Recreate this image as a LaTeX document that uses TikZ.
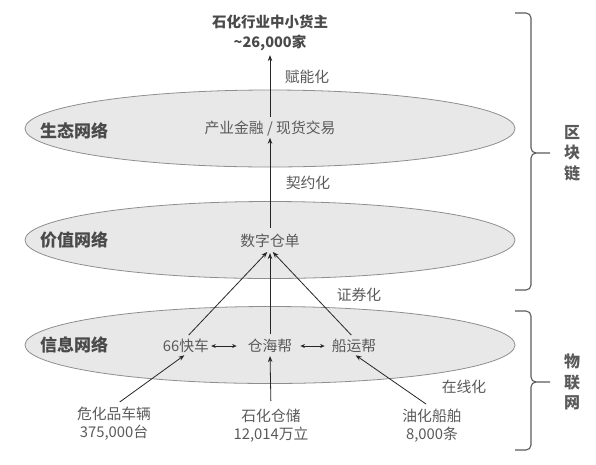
\documentclass[tikz,border=0pt]{standalone}
\usepackage{fontspec}
\setmainfont{Noto Sans CJK SC}
\usetikzlibrary{arrows.meta, shapes.geometric}

\definecolor{txtgray}{HTML}{5A5A5A}
\definecolor{netgray}{HTML}{4A4A4A}
\definecolor{layerfill}{HTML}{E8E8E8}
\definecolor{layerline}{HTML}{8E8E8E}

\begin{document}
\begin{tikzpicture}[
    x=1pt, y=-1pt,
    >={Stealth[length=6pt, width=4.5pt]},
    layer/.style={ellipse, draw=layerline, fill=layerfill, line width=0.8pt,
                  minimum width=490pt, minimum height=77pt, inner sep=0pt},
    netlbl/.style={font=\fontsize{17}{20}\selectfont\bfseries, text=netgray},
    lbl/.style={font=\fontsize{14.8}{18}\selectfont, text=txtgray,
                inner sep=1pt, align=center},
    toplbl/.style={font=\fontsize{14.5}{20}\selectfont\bfseries, text=netgray,
                   inner sep=1pt, align=center},
    sidelbl/.style={font=\fontsize{16}{20.5}\selectfont\bfseries, text=txtgray,
                    align=center},
    arr/.style={->, line width=0.8pt, draw=black!85},
    dbl/.style={<->, >={Stealth[length=4.5pt, width=4pt]}, line width=0.8pt, draw=black!85},
    brk/.style={line width=1.1pt, draw=txtgray},
]
\useasboundingbox (0,0) rectangle (596,464);

% === Layers ===
\node[layer] (eco) at (270, 128.5) {};
\node[layer] (value) at (270, 240) {};
\node[layer] (info) at (270, 345) {};

\node[netlbl] (ecolbl) at (74, 131) {生态网络};
\node[netlbl] (valuelbl) at (74, 240) {价值网络};
\node[netlbl] (infolbl) at (74, 345) {信息网络};

% === Top ===
\node[toplbl] (owners) at (270, 33) {石化行业中小货主\\\textasciitilde 26,000家};

% === Contents of the layers ===
\node[lbl] (finance) at (270, 129) {产业金融 / 现货交易};
\node[lbl] (receipt) at (270, 241) {数字仓单};
\node[lbl] (kuaiche) at (186, 346) {66快车};
\node[lbl] (canghai) at (270, 346) {仓海帮};
\node[lbl] (chuanyun) at (354, 346) {船运帮};

% === Physical assets ===
\node[lbl] (trucks) at (114, 424) {危化品车辆\\375,000台};
\node[lbl] (tanks) at (271, 426) {石化仓储\\12,014万立};
\node[lbl] (ships) at (432, 426) {油化船舶\\8,000条};

% === Arrows ===
\draw[arr, shorten <=3pt, shorten >=3pt] (finance) -- (owners);
\draw[arr, shorten <=5pt] (receipt) -- (finance);
\draw[arr, shorten <=4pt, shorten >=4pt] (kuaiche.north) -- (receipt.south);
\draw[arr, shorten <=4pt, shorten >=4pt] (canghai.north) -- (receipt.south);
\draw[arr, shorten <=4pt, shorten >=4pt] (chuanyun.north) -- (receipt.south);
\draw[dbl, shorten <=1pt, shorten >=10pt] (kuaiche.east) -- (canghai.west);
\draw[dbl, shorten <=7pt, shorten >=6pt] (canghai.east) -- (chuanyun.west);
\draw[arr, shorten <=7pt, shorten >=2pt] (trucks.north) -- (kuaiche.south);
\draw[arr, shorten <=7pt, shorten >=2pt] (tanks.north) -- (canghai.south);
\draw[arr, shorten <=7pt, shorten >=2pt] (ships.north) -- (chuanyun.south);

% === Arrow labels ===
\node[lbl] (empower) at (307, 77) {赋能化};
\node[lbl] (contract) at (308, 183) {契约化};
\node[lbl] (securitize) at (359, 295) {证券化};
\node[lbl] (online) at (464, 387) {在线化};

% === Brackets ===
\draw[brk] (515, 13) -- (526, 13) to[out=0, in=90] (531, 18) -- (531, 148)
     to[out=-90, in=180] (536, 153) -- (550, 153);
\draw[brk] (536, 153) to[out=180, in=90] (531, 158) -- (531, 285)
     to[out=-90, in=0] (526, 290) -- (515, 290);
\draw[brk] (515, 311) -- (526, 311) to[out=0, in=90] (531, 316) -- (531, 377)
     to[out=-90, in=180] (536, 382) -- (550, 382);
\draw[brk] (536, 382) to[out=180, in=90] (531, 387) -- (531, 445)
     to[out=-90, in=0] (526, 450) -- (515, 450);

\node[sidelbl] (chain) at (572, 153) {区\\块\\链};
\node[sidelbl] (iot) at (572, 382) {物\\联\\网};

\end{tikzpicture}
\end{document}
